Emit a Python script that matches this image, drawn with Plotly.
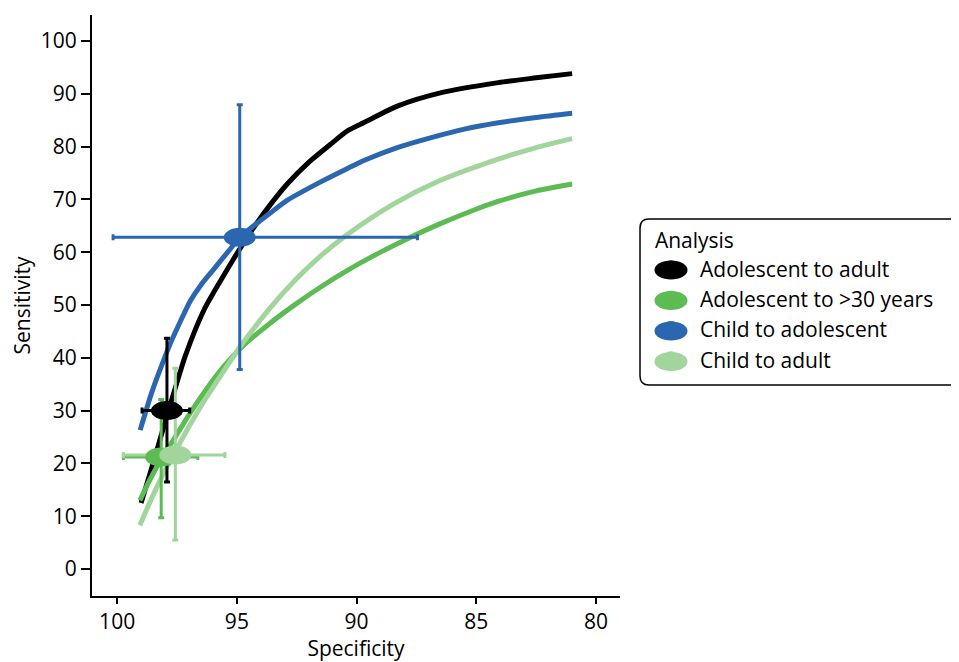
import plotly.graph_objects as go

# ---------------- data ----------------
series_names = ["Adolescent to adult", "Adolescent to >30 years",
                "Child to adolescent", "Child to adult"]
colors = ["#000000", "#5DBB54", "#2B67B1", "#A1D59B"]

# SROC curves (specificity, sensitivity)
curve_spec_adol_adult = [99.0, 98.6, 98.27, 97.92, 97.55, 97.15, 96.38, 95.68, 95.1, 94.4,
                         93.6, 92.88, 92.0, 91.07, 90.37, 89.67, 88.27, 86.46, 84.08, 82.5, 81.0]
curve_sens_adol_adult = [12.5, 18.5, 23.6, 29.0, 34.6, 40.4, 49.0, 54.6, 59.0, 64.0,
                         69.0, 73.0, 77.0, 80.5, 83.0, 84.6, 87.7, 90.2, 92.1, 93.0, 93.8]

curve_spec_adol_30 = [99.05, 98.6, 98.1, 97.6, 97.1, 96.25, 95.5, 94.8, 93.6, 92.5,
                      91.5, 90.4, 89.0, 87.85, 86.5, 85.2, 84.1, 82.5, 81.0]
curve_sens_adol_30 = [13.0, 17.2, 21.2, 24.8, 28.5, 34.2, 38.6, 42.0, 46.6, 50.3,
                      53.4, 56.5, 60.0, 62.6, 65.4, 67.8, 69.6, 71.6, 72.9]

curve_spec_child_adol = [99.04, 98.55, 98.06, 97.78, 97.4, 96.94, 96.5, 95.96, 95.26, 94.88,
                         93.58, 92.9, 91.5, 90.4, 89.67, 88.3, 86.88, 85.5, 84.08, 82.5, 81.0]
curve_sens_child_adol = [26.3, 33.5, 39.5, 42.7, 46.5, 50.8, 53.8, 56.8, 60.7, 62.8,
                         67.5, 69.8, 73.3, 75.8, 77.4, 79.8, 81.7, 83.3, 84.5, 85.5, 86.3]

curve_spec_child_adult = [99.05, 98.6, 98.1, 97.6, 97.0, 96.3, 95.5, 94.8, 93.6, 92.5,
                          91.5, 90.4, 88.5, 86.5, 84.3, 82.5, 81.0]
curve_sens_child_adult = [8.3, 13.0, 17.8, 22.0, 27.0, 32.3, 37.8, 42.5, 49.5, 55.0,
                          59.3, 63.3, 69.0, 73.6, 77.3, 79.8, 81.5]

# summary points with confidence intervals
point_spec = [97.92, 98.16, 94.88, 97.57]
point_sens = [30.0, 21.2, 62.8, 21.6]
spec_low = [96.97, 96.63, 87.46, 95.50]
spec_high = [98.96, 99.74, 100.17, 99.74]
sens_low = [16.5, 9.7, 37.8, 5.5]
sens_high = [43.7, 32.1, 87.9, 38.0]

x_ticks = [100, 95, 90, 85, 80]
y_ticks = [0, 10, 20, 30, 40, 50, 60, 70, 80, 90, 100]

curves_spec = [curve_spec_adol_adult, curve_spec_adol_30, curve_spec_child_adol, curve_spec_child_adult]
curves_sens = [curve_sens_adol_adult, curve_sens_adol_30, curve_sens_child_adol, curve_sens_child_adult]

# ---------------- layout constants ----------------
# page body has an 8px margin, so the figure is sized/offset to compensate
W, H = 951, 654
M_L, M_R, M_T, M_B = 84, 339, 7, 66
X_RANGE = [101.05, 79.0]
Y_RANGE = [-5.1, 104.9]
FONT = "Open Sans"
ELL_W_PX, ELL_H_PX = 32, 19
LEG_ELL_W_PX, LEG_ELL_H_PX = 33, 19
LEG_ICON_X_PX = 663          # icon centre, figure pixels
LEG_ICON_Y_PX = [262, 292.5, 323, 353.5]
LEG_POS_PX = (634, 213)      # legend content anchor, figure pixels
LEG_BOX_PX = dict(left=632, right=975, top=211, bottom=377, r=9)

plot_w = W - M_L - M_R
plot_h = H - M_T - M_B
ell_dx = ELL_W_PX / 2 * abs(X_RANGE[0] - X_RANGE[1]) / plot_w
ell_dy = ELL_H_PX / 2 * abs(Y_RANGE[1] - Y_RANGE[0]) / plot_h


def px_to_paper_x(px):
    return (px - M_L) / plot_w


def px_to_paper_y(py):
    return 1 - (py - M_T) / plot_h


fig = go.Figure()

# curves
for i in range(4):
    fig.add_trace(go.Scatter(
        x=curves_spec[i], y=curves_sens[i], mode="lines",
        line=dict(color=colors[i], width=5, shape="spline", smoothing=0.7),
        showlegend=False, hoverinfo="skip"))

# points with error bars
for i in range(4):
    fig.add_trace(go.Scatter(
        x=[point_spec[i]], y=[point_sens[i]], mode="markers",
        name=series_names[i],
        marker=dict(color=colors[i], size=16, symbol="circle"),
        error_x=dict(type="data", symmetric=False,
                     array=[spec_high[i] - point_spec[i]],
                     arrayminus=[point_spec[i] - spec_low[i]],
                     color=colors[i], thickness=3, width=3),
        error_y=dict(type="data", symmetric=False,
                     array=[sens_high[i] - point_sens[i]],
                     arrayminus=[point_sens[i] - sens_low[i]],
                     color=colors[i], thickness=3, width=3),
    ))

# ellipse markers on the plot
for i in range(4):
    fig.add_shape(type="circle", xref="x", yref="y",
                  x0=point_spec[i] - ell_dx, x1=point_spec[i] + ell_dx,
                  y0=point_sens[i] - ell_dy, y1=point_sens[i] + ell_dy,
                  fillcolor=colors[i], line=dict(width=0), layer="above")

# ellipse icons behind the legend symbols
for i in range(4):
    cx = px_to_paper_x(LEG_ICON_X_PX)
    cy = px_to_paper_y(LEG_ICON_Y_PX[i])
    hx = LEG_ELL_W_PX / 2 / plot_w
    hy = LEG_ELL_H_PX / 2 / plot_h
    fig.add_shape(type="circle", xref="paper", yref="paper",
                  x0=cx - hx, x1=cx + hx, y0=cy - hy, y1=cy + hy,
                  fillcolor=colors[i], line=dict(width=0), layer="above")

# rounded legend frame (extends past the right edge, as in the original)
bl, br_, bt, bb, rr = (LEG_BOX_PX[k] for k in ("left", "right", "top", "bottom", "r"))
frame_path = (
    f"M {px_to_paper_x(br_)},{px_to_paper_y(bt)} "
    f"L {px_to_paper_x(bl + rr)},{px_to_paper_y(bt)} "
    f"Q {px_to_paper_x(bl)},{px_to_paper_y(bt)} {px_to_paper_x(bl)},{px_to_paper_y(bt + rr)} "
    f"L {px_to_paper_x(bl)},{px_to_paper_y(bb - rr)} "
    f"Q {px_to_paper_x(bl)},{px_to_paper_y(bb)} {px_to_paper_x(bl + rr)},{px_to_paper_y(bb)} "
    f"L {px_to_paper_x(br_)},{px_to_paper_y(bb)}"
)
fig.add_shape(type="path", xref="paper", yref="paper", path=frame_path,
              line=dict(color="black", width=1.5), layer="above")

axis_common = dict(showline=True, linecolor="black", linewidth=2,
                   ticks="outside", tickwidth=2, tickcolor="black",
                   showgrid=False, zeroline=False, automargin=False,
                   tickfont=dict(family=FONT, size=21, color="black"),
                   mirror=False)

fig.update_layout(
    width=W, height=H,
    margin=dict(l=M_L, r=M_R, t=M_T, b=M_B),
    paper_bgcolor="white", plot_bgcolor="white",
    font=dict(family=FONT, color="black"),
    xaxis=dict(range=X_RANGE, tickvals=x_ticks, ticktext=[str(v) for v in x_ticks],
               ticklen=6,
               title=dict(text="Specificity", font=dict(family=FONT, size=21), standoff=4),
               **axis_common),
    yaxis=dict(range=Y_RANGE, tickvals=y_ticks, ticktext=[str(v) for v in y_ticks],
               ticklen=9,
               title=dict(text="Sensitivity", font=dict(family=FONT, size=21), standoff=8),
               **axis_common),
    legend=dict(
        title=dict(text="\u00a0\u00a0Analysis", font=dict(family=FONT, size=21)),
        font=dict(family=FONT, size=21, color="black"),
        x=px_to_paper_x(LEG_POS_PX[0]), y=px_to_paper_y(LEG_POS_PX[1]),
        xanchor="left", yanchor="top",
        borderwidth=0, bgcolor="rgba(0,0,0,0)",
        itemwidth=48, tracegroupgap=0,
    ),
)

fig.write_html("out.html")
